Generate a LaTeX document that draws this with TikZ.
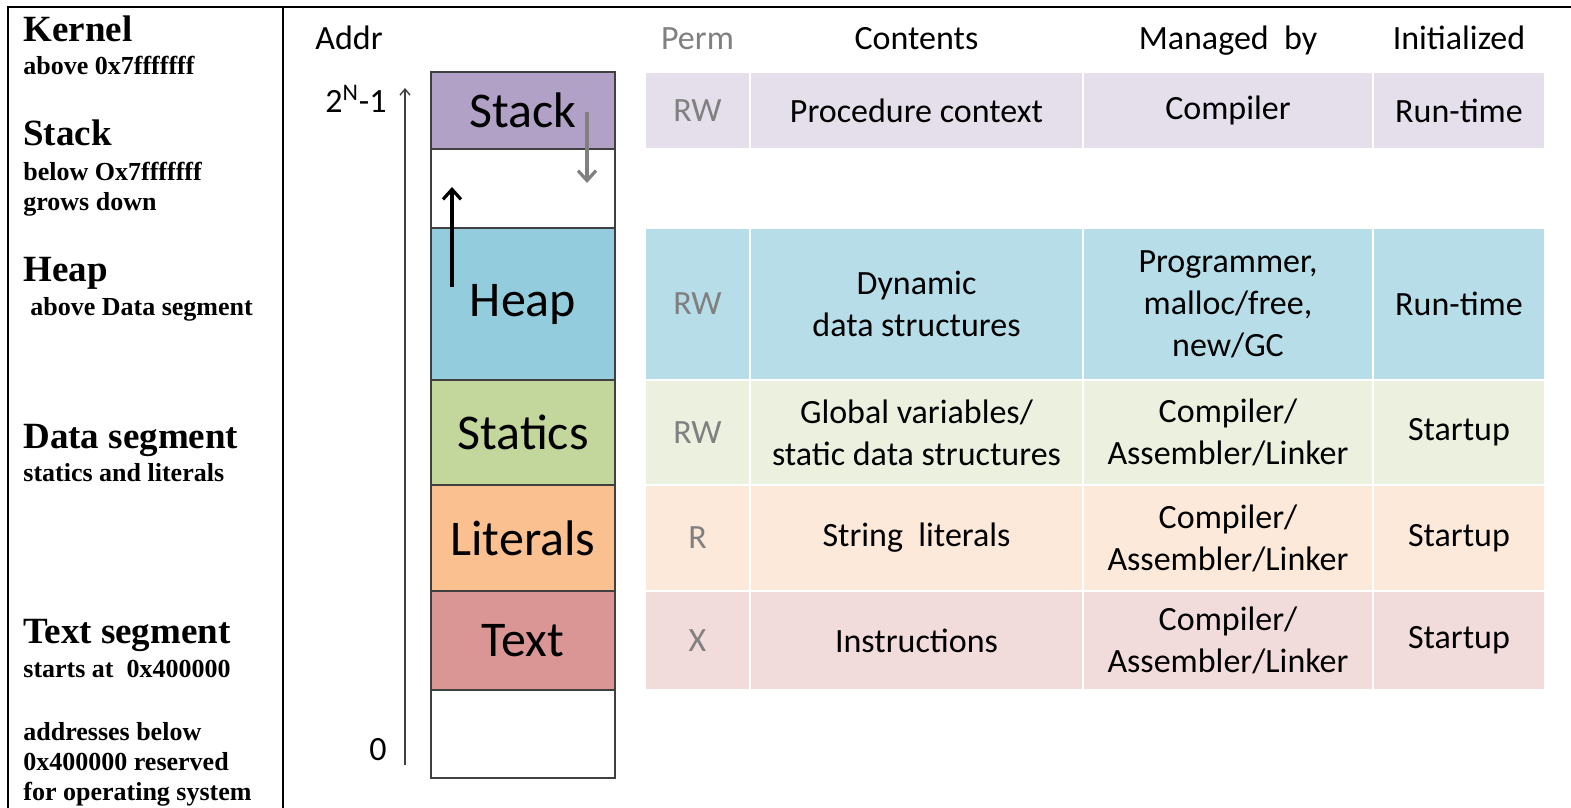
\documentclass[tikz,border=0pt]{standalone}
\usepackage{fontspec}
\setmainfont{Carlito}
\newfontfamily\timesfont{Liberation Serif}
\usetikzlibrary{positioning,arrows.meta}

\definecolor{stackfill}{HTML}{B2A1C7}
\definecolor{heapfill}{HTML}{93CDDD}
\definecolor{staticsfill}{HTML}{C3D69B}
\definecolor{litfill}{HTML}{FAC090}
\definecolor{textfill}{HTML}{D99694}
\definecolor{stackrow}{HTML}{E5DFEC}
\definecolor{heaprow}{HTML}{B7DEE8}
\definecolor{staticsrow}{HTML}{EBF1DE}
\definecolor{litrow}{HTML}{FDE9D9}
\definecolor{textrow}{HTML}{F2DCDB}
\definecolor{permgray}{HTML}{808080}

\tikzset{
  seg/.style={draw=black!75, line width=0.8pt, minimum width=92pt, inner sep=0pt, outer sep=0pt, font=\fontsize{25}{30}\selectfont},
  cell/.style={draw=white, line width=1pt, inner sep=0pt, outer sep=0pt, align=center, font=\fontsize{17}{21}\selectfont},
  perm/.style={cell, minimum width=52.5pt, text=permgray},
  cont/.style={cell, minimum width=166.5pt},
  mgr/.style={cell, minimum width=145pt},
  initcol/.style={cell, minimum width=86pt},
  colhead/.style={anchor=base, inner sep=0pt, font=\fontsize{17}{21}\selectfont},
  bigtitle/.style={anchor=base west, inner sep=0pt, font=\timesfont\bfseries\fontsize{18.5}{22}\selectfont},
  sidenote/.style={anchor=base west, inner sep=0pt, align=left, font=\timesfont\bfseries\fontsize{13}{15}\selectfont},
  addraxis/.style={line width=0.7pt, draw=black!75, -{Straight Barb[length=3pt, width=5pt]}},
  growarrow/.style={line width=1.6pt, -{Straight Barb[length=5pt, width=9pt]}},
}

\begin{document}
\begin{tikzpicture}[x=0.5pt, y=-0.5pt]
  \useasboundingbox (0,0) rectangle (1571,808);

  % frame
  \draw[line width=1.3pt] (8,808) -- (8,7) -- (1571,7);
  \draw[line width=1.3pt] (283,7) -- (283,808);

  % left column (multi-line notes sit on their last baseline)
  \node[bigtitle] (kernelt) at (23,42) {Kernel};
  \node[sidenote] (kernelnote) at (23,75) {above 0x7fffffff};
  \node[bigtitle] (stackt) at (23,146) {Stack};
  \node[sidenote] (stacknote) at (23,211) {below Ox7fffffff\\grows down};
  \node[bigtitle] (heapt) at (23,282) {Heap};
  \node[sidenote] (heapnote) at (30,315) {above Data segment};
  \node[bigtitle] (datat) at (23,448) {Data segment};
  \node[sidenote] (datanote) at (23,481) {statics and literals};
  \node[bigtitle] (textt) at (23,643) {Text segment};
  \node[sidenote] (textnote) at (23,677) {starts at \ 0x400000};
  \node[sidenote] (osnote) at (23,800) {addresses below\\0x400000 reserved\\for operating system};

  % memory layout
  \node[seg, fill=stackfill, minimum height=38.5pt, anchor=north west] (stack) at (431,72) {Stack};
  \node[seg, minimum height=39.5pt, below=0pt of stack] (gap) {};
  \node[seg, fill=heapfill, minimum height=76pt, below=0pt of gap] (heap) {Heap};
  \node[seg, fill=staticsfill, minimum height=52.5pt, below=0pt of heap] (statics) {Statics};
  \node[seg, fill=litfill, minimum height=53pt, below=0pt of statics] (literals) {Literals};
  \node[seg, fill=textfill, minimum height=49.5pt, below=0pt of literals] (textseg) {Text};
  \node[seg, minimum height=44pt, below=0pt of textseg] (reserved) {};

  % address axis
  \coordinate (abot) at (405,765);
  \coordinate (atop) at (405,88);
  \draw[addraxis] (abot) -- (atop);
  \node[colhead, anchor=base east] (maxaddr) at (387,113) {2\textsuperscript{N}-1};
  \node[colhead] (zeroaddr) at (378,760) {0};

  % growth
  \coordinate (hgrow0) at (452,287);
  \coordinate (hgrow1) at (452,187);
  \draw[growarrow] (hgrow0) -- (hgrow1);
  \coordinate (sgrow0) at (587,112);
  \coordinate (sgrow1) at (587,183);
  \draw[growarrow, draw=permgray] (sgrow0) -- (sgrow1);

  % table
  \node[perm, fill=stackrow, minimum height=38.5pt, right=15pt of stack] (permS) {RW};
  \node[cont, fill=stackrow, minimum height=38.5pt, right=0pt of permS] (contS) {Procedure context};
  \node[mgr, fill=stackrow, minimum height=38.5pt, right=0pt of contS] (mgrS) {Compiler};
  \node[initcol, fill=stackrow, minimum height=38.5pt, right=0pt of mgrS] (initS) {Run-time};

  \node[perm, fill=heaprow, minimum height=76pt, right=15pt of heap] (permH) {RW};
  \node[cont, fill=heaprow, minimum height=76pt, right=0pt of permH] (contH) {Dynamic\\data structures};
  \node[mgr, fill=heaprow, minimum height=76pt, right=0pt of contH] (mgrH) {Programmer,\\malloc/free,\\new/GC};
  \node[initcol, fill=heaprow, minimum height=76pt, right=0pt of mgrH] (initH) {Run-time};

  \node[perm, fill=staticsrow, minimum height=52.5pt, right=15pt of statics] (permD) {RW};
  \node[cont, fill=staticsrow, minimum height=52.5pt, right=0pt of permD] (contD) {Global variables/\\static data structures};
  \node[mgr, fill=staticsrow, minimum height=52.5pt, right=0pt of contD] (mgrD) {Compiler/\\Assembler/Linker};
  \node[initcol, fill=staticsrow, minimum height=52.5pt, right=0pt of mgrD] (initD) {Startup};

  \node[perm, fill=litrow, minimum height=53pt, right=15pt of literals] (permL) {R};
  \node[cont, fill=litrow, minimum height=53pt, right=0pt of permL] (contL) {String\ \ literals};
  \node[mgr, fill=litrow, minimum height=53pt, right=0pt of contL] (mgrL) {Compiler/\\Assembler/Linker};
  \node[initcol, fill=litrow, minimum height=53pt, right=0pt of mgrL] (initL) {Startup};

  \node[perm, fill=textrow, minimum height=49.5pt, right=15pt of textseg] (permT) {X};
  \node[cont, fill=textrow, minimum height=49.5pt, right=0pt of permT] (contT) {Instructions};
  \node[mgr, fill=textrow, minimum height=49.5pt, right=0pt of contT] (mgrT) {Compiler/\\Assembler/Linker};
  \node[initcol, fill=textrow, minimum height=49.5pt, right=0pt of mgrT] (initT) {Startup};

  % headers
  \node[colhead] (addrh) at (349,50) {Addr};
  \node[colhead, text=permgray] (permh) at (permS.north |- 0,50) {Perm};
  \node[colhead] (conth) at (contS.north |- 0,50) {Contents};
  \node[colhead] (mgrh) at (mgrS.north |- 0,50) {Managed\ \ by};
  \node[colhead] (inith) at (initS.north |- 0,50) {Initialized};
\end{tikzpicture}
\end{document}
